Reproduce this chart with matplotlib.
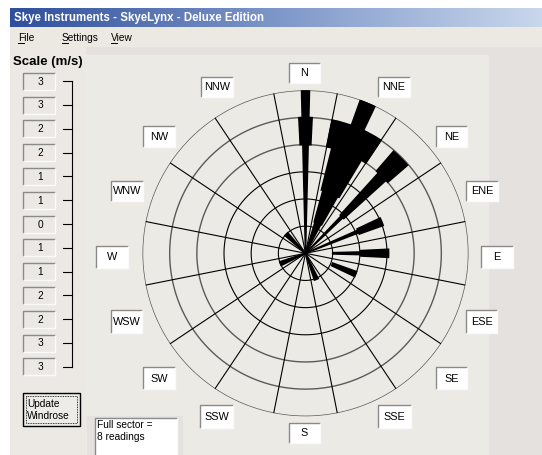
import numpy as np
import matplotlib
matplotlib.use("Agg")
import matplotlib.pyplot as plt
from matplotlib.patches import Rectangle
from matplotlib.colors import LinearSegmentedColormap

# ----- dados -----
title = "Skye Instruments - SkyeLynx - Deluxe Edition"
menu_items = ["File", "Settings", "View"]
scale_title = "Scale (m/s)"
scale_labels = ["3", "3", "2", "2", "1", "1", "0", "1", "1", "2", "2", "3", "3"]
compass = ["N", "NNE", "NE", "ENE", "E", "ESE", "SE", "SSE",
           "S", "SSW", "SW", "WSW", "W", "WNW", "NW", "NNW"]
ring_speeds = [0.5, 1.0, 1.5, 2.0, 2.5, 3.0]   # m/s
full_sector_readings = 8
info_text = "Full sector =\n8 readings"
button_text = "Update\nWindrose"

# segmentos do windrose: direcao, velocidade inicial/final (m/s), leituras
seg_dir = ["N", "N", "N",
           "NNE", "NNE", "NNE", "NNE", "NNE",
           "NE", "NE", "NE",
           "ENE", "ENE",
           "E", "E",
           "ESE", "SSE", "WSW", "NW"]
seg_from = [0.0, 2.0, 2.5,
            0.0, 0.6, 1.2, 2.0, 2.5,
            0.0, 0.95, 2.0,
            0.0, 1.05,
            0.5, 1.02,
            0.53, 0.05, 0.05, 0.05]
seg_to = [2.0, 2.5, 3.0,
          0.6, 1.2, 2.0, 2.5, 3.0,
          0.95, 2.0, 2.48,
          1.05, 1.52,
          1.02, 1.53,
          1.0, 0.52, 0.5, 0.5]
seg_count = [1, 2, 1,
             4, 5, 6, 8, 2,
             1, 2, 3,
             1, 2,
             1, 2,
             2, 3, 3, 3]

# ----- layout (pixels) -----
W, H = 542, 455
CX, CY, R = 305.5, 253.3, 163.0
label_boxes = {  # x0, y0, x1, y1
    "N": (289, 63, 320, 83), "NNE": (378, 77, 410, 97), "NE": (436, 126, 467, 147),
    "ENE": (466, 181, 498, 201), "E": (481, 246, 513, 268), "ESE": (466, 310, 497, 333),
    "SE": (436, 367, 467, 389), "SSE": (378, 405, 411, 428), "S": (289, 423, 320, 443),
    "SSW": (200, 405, 233, 428), "SW": (143, 367, 175, 389), "WSW": (111, 310, 142, 333),
    "W": (96, 246, 128, 268), "WNW": (111, 181, 143, 201), "NW": (143, 126, 175, 147),
    "NNW": (201, 77, 233, 97),
}
UI_FONT = "Liberation Sans"
BG = "#ECEAE5"

fig = plt.figure(figsize=(W / 100, H / 100), dpi=100)
fig.patch.set_facecolor("white")
ui = fig.add_axes([0, 0, 1, 1], zorder=0)
ui.axis("off")


def rect(x0, y0, x1, y1, fc, ec="none", lw=0, z=1, **kw):
    ui.add_patch(Rectangle((x0, y0), x1 - x0, y1 - y0, facecolor=fc,
                           edgecolor=ec, linewidth=lw, zorder=z, **kw))


def sunken(x0, y0, x1, y1, fc, z=2):
    rect(x0, y0, x1, y1, fc, z=z)
    ui.plot([x0, x0, x1], [y1, y0, y0], color="#8a8a8a", lw=1.0, zorder=z + 1,
            solid_capstyle="butt")
    ui.plot([x0, x1, x1], [y1, y1, y0], color="#fafafa", lw=1.0, zorder=z + 1,
            solid_capstyle="butt")


# janela
rect(10, 8, W, H, "#E4E1DE", z=0)
rect(10, 27, W, 47, "#ECE9E2", z=1)
rect(10, 47, 86, H, "#ECE9E4", z=1)
rect(86, 55, 489, H, BG, z=1)

# barra de titulo com gradiente
cmap = LinearSegmentedColormap.from_list("tb", ["#2F4F9C", "#7E97C9", "#C9D7EC"])
ui.imshow(np.linspace(0, 1, 256).reshape(1, -1), extent=(10, W, 27, 8),
          aspect="auto", cmap=cmap, zorder=2)
ui.text(14, 18, title, color="white", fontsize=8.3, fontweight="bold",
        family=UI_FONT, va="center", ha="left", zorder=3)

# menu
for name, x in zip(menu_items, [18, 62, 111]):
    ui.text(x, 38, name, fontsize=7.3, family=UI_FONT, va="center", ha="left", zorder=3)
    ui.plot([x, x + 5.5], [43.2, 43.2], color="black", lw=0.7, zorder=3)

# painel da escala
ui.text(13, 62, scale_title, fontsize=9.5, fontweight="bold", family=UI_FONT,
        va="center", ha="left", zorder=3)
step = (366.8 - 81.2) / (len(scale_labels) - 1)
for i, lab in enumerate(scale_labels):
    yc = 81.2 + i * step
    sunken(23, yc - 8.5, 55, yc + 8.5, "#ECE9E4")
    ui.text(40, yc + 0.5, lab, fontsize=7.3, family=UI_FONT, ha="center", va="center", zorder=4)
    ui.plot([63, 72], [yc, yc], color="black", lw=0.8, zorder=3)
ui.plot([72, 72], [81.2, 366.8], color="black", lw=0.8, zorder=3)

# botao
rect(23, 393, 80, 426, "#EEECE8", ec="black", lw=1.0, z=2)
rect(26, 396, 77, 423, "none", ec="black", lw=0.6, z=3, linestyle=(0, (1, 1)))
ui.text(27, 410, button_text, fontsize=7.3, family=UI_FONT, ha="left", va="center",
        linespacing=1.15, zorder=4)

# caixa de informacao
rect(87, 416, 183, H, "#E4E1DE", z=2)
sunken(95, 418, 177, H + 2, "white", z=3)
ui.text(97, 431, info_text, fontsize=7.3, family=UI_FONT, ha="left", va="center",
        linespacing=1.15, zorder=5)

# rotulos de direcao
for name in compass:
    x0, y0, x1, y1 = label_boxes[name]
    sunken(x0, y0, x1, y1, "white", z=3)
    ui.text((x0 + x1) / 2, (y0 + y1) / 2 + 0.5, name, fontsize=7.8, family=UI_FONT,
            ha="center", va="center", zorder=5)

ui.set_xlim(0, W)
ui.set_ylim(H, 0)

# ----- windrose (eixo polar) -----
ax = fig.add_axes([(CX - R) / W, (H - CY - R) / H, 2 * R / W, 2 * R / H],
                  projection="polar", zorder=1)
ax.patch.set_alpha(0)
ax.set_theta_zero_location("N")
ax.set_theta_direction(-1)
ax.set_ylim(0, ring_speeds[-1])
ax.set_xticks([])
ax.set_yticks([])
ax.grid(False)
ax.spines["polar"].set_visible(False)

sector = 2 * np.pi / len(compass)
tt = np.linspace(0, 2 * np.pi, 721)
for k, r in enumerate(ring_speeds):
    outer = k >= 3
    ax.plot(tt, np.full_like(tt, r), color="#5a5a5a" if outer else "black",
            lw=1.0 if outer else 0.8, zorder=2)
for k in range(len(compass)):
    a = (k + 0.5) * sector
    ax.plot([a, a], [0, ring_speeds[-1]], color="black", lw=0.8, zorder=2)

theta = [compass.index(d) * sector for d in seg_dir]
widths = [c / full_sector_readings * sector for c in seg_count]
heights = [t - f for f, t in zip(seg_from, seg_to)]
ax.bar(theta, heights, width=widths, bottom=seg_from, color="black",
       edgecolor="black", linewidth=1.1, zorder=3)

fig.savefig("out.png", dpi=100)
